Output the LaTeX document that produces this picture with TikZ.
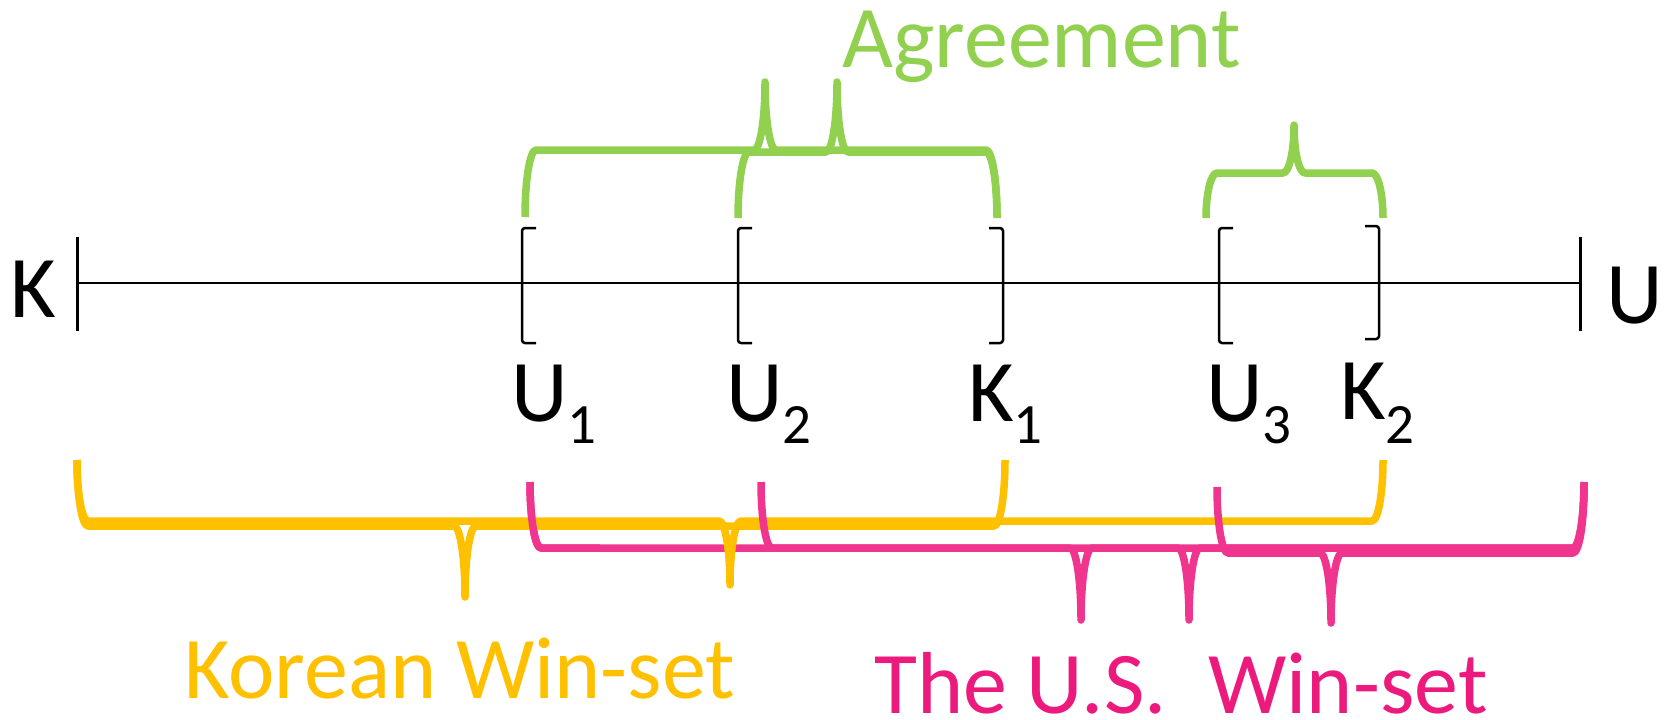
\documentclass[tikz,border=0pt]{standalone}
\usepackage{fontspec}
\setmainfont{Carlito}
\usetikzlibrary{calc}

\definecolor{agreeGreen}{HTML}{92D050}
\definecolor{krGold}{HTML}{FFC000}
\definecolor{usPink}{HTML}{F0358E}
\definecolor{usPinkText}{HTML}{EC1A7D}

\tikzset{
  axisline/.style={line width=2.7pt, black},
  tickline/.style={line width=3pt, black},
  bracketline/.style={line width=2.5pt, black, rounded corners=3pt},
  braceline/.style={line width=7.5pt, line join=round, line cap=butt},
  lbl/.style={anchor=base west, inner sep=0pt, font=\fontsize{88}{88}\selectfont},
}

% lowered, smaller index digit
\newcommand\lowidx[2]{\raisebox{-#1pt}{\fontsize{57}{57}\selectfont #2}}

% interval brackets: x, top, bottom
\newcommand\openbr[3]{\draw[bracketline] (#1+14,#2) -- (#1,#2) -- (#1,#3) -- (#1+14,#3);}
\newcommand\closebr[3]{\draw[bracketline] (#1-14,#2) -- (#1,#2) -- (#1,#3) -- (#1-14,#3);}

% curly brace: colour, left x, right x, tip x, end y, bar y, tip y
\newcommand\winbrace[7]{%
  \pgfmathsetmacro\bcK{0.552}%
  \pgfmathsetmacro\bcR{11}%
  \draw[braceline, draw=#1]
    (#2,#5) .. controls (#2,{#5+\bcK*(#6-#5)}) and ({#2+\bcR-\bcK*\bcR},#6) .. ({#2+\bcR},#6)
    -- ({#4-\bcR},#6) .. controls ({#4-\bcR+\bcK*\bcR},#6) and (#4,{#7+\bcK*(#6-#7)}) .. (#4,#7)
    .. controls (#4,{#7+\bcK*(#6-#7)}) and ({#4+\bcR-\bcK*\bcR},#6) .. ({#4+\bcR},#6)
    -- ({#3-\bcR},#6) .. controls ({#3-\bcR+\bcK*\bcR},#6) and (#3,{#5+\bcK*(#6-#5)}) .. (#3,#5);%
}

\begin{document}
\begin{tikzpicture}[x=1pt,y=-1pt]
\useasboundingbox (0,0) rectangle (1668,720);

% number line between the two positions
\coordinate (kend) at (77,283);
\coordinate (uend) at (1580,283);
\draw[axisline] (kend) -- (uend);
\draw[tickline] ($(kend)+(0,-46)$) -- ($(kend)+(0,48)$);
\draw[tickline] ($(uend)+(0,-46)$) -- ($(uend)+(0,48)$);

\node[lbl] (lk) at (10,317) {K};
\node[lbl] (lu) at (1606,323) {U};

% interval brackets
\openbr{522}{228}{343}
\openbr{738}{228}{343}
\closebr{1003}{228}{343}
\openbr{1219}{228}{343}
\closebr{1379}{226}{339}

\node[lbl] (u1) at (511,421) {U\lowidx{22}{1}};
\node[lbl] (u2) at (726,421) {U\lowidx{22}{2}};
\node[lbl] (k1) at (968,421) {K\lowidx{22}{1}};
\node[lbl] (u3) at (1206,421) {U\lowidx{22}{3}};
\node[lbl] (k2) at (1340,419) {K\lowidx{24}{2}};

% agreement braces
\winbrace{agreeGreen}{525}{997}{765}{217}{150}{82}
\winbrace{agreeGreen}{738}{997}{837}{218}{152}{82}
\winbrace{agreeGreen}{1206}{1383}{1294}{218}{173}{125}

% win-set braces
\winbrace{usPink}{530}{1584}{1081}{482}{548}{620}
\winbrace{krGold}{77}{1383}{730}{460}{521}{585}
\winbrace{krGold}{77}{1005}{465}{460}{526}{597}
% the pink left hook crosses over the gold bars
\begin{scope}
  \clip (500,470) rectangle (600,560);
  \winbrace{usPink}{530}{1584}{1081}{482}{548}{620}
\end{scope}
\winbrace{usPink}{761}{1584}{1189}{482}{548}{620}
\winbrace{usPink}{1217}{1584}{1331}{487}{553}{623}

\node[lbl, text=agreeGreen] (agr) at (842,67) {Agreement};
\node[lbl, text=krGold] (krw) at (184,698) {Korean Win-set};
\node[lbl, text=usPinkText] (usw) at (874,713) {The U.S.\hspace{22pt} Win-set};
\end{tikzpicture}
\end{document}
